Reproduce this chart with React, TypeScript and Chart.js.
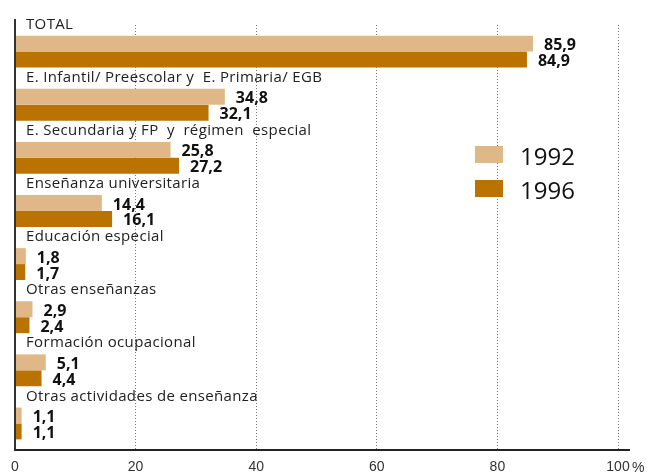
import React, { useEffect, useRef } from "react";
import { Chart, registerables } from "chart.js";

Chart.register(...registerables);

const categories = [
  "TOTAL",
  "E. Infantil/ Preescolar y  E. Primaria/ EGB",
  "E. Secundaria y FP  y  régimen  especial",
  "Enseñanza universitaria",
  "Educación especial",
  "Otras enseñanzas",
  "Formación ocupacional",
  "Otras actividades de enseñanza",
];
const seriesNames = ["1992", "1996"];
const values1992 = [85.9, 34.8, 25.8, 14.4, 1.8, 2.9, 5.1, 1.1];
const values1996 = [84.9, 32.1, 27.2, 16.1, 1.7, 2.4, 4.4, 1.1];
const xMin = 0;
const xMax = 100;
const xStep = 20;
const unitLabel = "%";

const colors = ["#E0B887", "#BA7300"];
const FONT = "'Open Sans', 'Noto Sans', sans-serif";
const TICK_FONT = "'Liberation Sans', Arial, sans-serif";

const fmt = (v: number) => v.toFixed(1).replace(".", ",");

const overlayPlugin = {
  id: "overlay",
  afterDatasetsDraw(chart: any) {
    const ctx = chart.ctx;
    const area = chart.chartArea;
    const xScale = chart.scales.x;
    ctx.save();
    // axis lines
    ctx.strokeStyle = "#333";
    ctx.lineWidth = 2;
    ctx.beginPath();
    ctx.moveTo(area.left, 19);
    ctx.lineTo(area.left, area.bottom + 1);
    ctx.stroke();
    ctx.strokeStyle = "#222";
    ctx.beginPath();
    ctx.moveTo(area.left, area.bottom);
    ctx.lineTo(area.right + 12, area.bottom);
    ctx.stroke();

    // category labels
    const meta0 = chart.getDatasetMeta(0);
    ctx.fillStyle = "#222";
    ctx.font = `15px ${FONT}`;
    (ctx as any).letterSpacing = "0.35px";
    ctx.textAlign = "left";
    ctx.textBaseline = "alphabetic";
    categories.forEach((c, i) => {
      const el = meta0.data[i];
      const top = el.y - el.height / 2;
      ctx.fillText(c, area.left + 11, top - 7);
    });
    (ctx as any).letterSpacing = "0px";

    // value labels
    ctx.fillStyle = "#111";
    ctx.font = `bold 16px ${FONT}`;
    ctx.textBaseline = "middle";
    chart.data.datasets.forEach((ds: any, di: number) => {
      const meta = chart.getDatasetMeta(di);
      ds.data.forEach((v: number, i: number) => {
        const el = meta.data[i];
        ctx.fillText(fmt(v), el.x + 11, el.y + 2);
      });
    });

    // unit label after last tick
    ctx.fillStyle = "#333";
    ctx.font = `14px ${TICK_FONT}`;
    ctx.textBaseline = "alphabetic";
    ctx.fillText(unitLabel, xScale.getPixelForValue(xMax) + 14, 472);

    // legend
    const lx = 475;
    const ly = [146, 180];
    seriesNames.forEach((n, i) => {
      ctx.fillStyle = colors[i];
      ctx.fillRect(lx, ly[i], 28, 17);
      ctx.fillStyle = "#111";
      ctx.font = `24px ${FONT}`;
      ctx.textBaseline = "alphabetic";
      ctx.fillText(n, 520, ly[i] + 19);
    });
    ctx.restore();
  },
};

export default function App() {
  const ref = useRef<HTMLCanvasElement | null>(null);
  useEffect(() => {
    if (!ref.current) return;
    const chart = new Chart(ref.current, {
      type: "bar",
      data: {
        labels: categories,
        datasets: [
          { label: seriesNames[0], data: values1992, backgroundColor: colors[0], borderWidth: 0 },
          { label: seriesNames[1], data: values1996, backgroundColor: colors[1], borderWidth: 0 },
        ],
      },
      options: {
        indexAxis: "y",
        responsive: false,
        animation: false,
        devicePixelRatio: 1,
        layout: { padding: { left: 15, right: 29, top: 25, bottom: 0 } },
        datasets: { bar: { categoryPercentage: 0.6, barPercentage: 1.0 } },
        plugins: { legend: { display: false }, tooltip: { enabled: false } },
        scales: {
          y: { display: false, offset: true },
          x: {
            min: xMin,
            max: xMax,
            grid: {
              drawTicks: false,
              color: (c: any) => (c.tick && c.tick.value === 0 ? "rgba(0,0,0,0)" : "#777"),
              lineWidth: 1,
            },
            border: { display: false, dash: [1, 2] },
            ticks: {
              stepSize: xStep,
              padding: 9,
              color: "#333",
              font: { family: TICK_FONT, size: 14 },
              maxRotation: 0,
            },
            afterFit: (s: any) => {
              s.height = 25;
            },
          },
        },
      } as any,
      plugins: [overlayPlugin],
    });
    return () => chart.destroy();
  }, []);
  return (
    <div style={{ position: "fixed", left: 0, top: 0, width: 647, height: 475, background: "#fff" }}>
      <canvas ref={ref} width={647} height={475} />
    </div>
  );
}
